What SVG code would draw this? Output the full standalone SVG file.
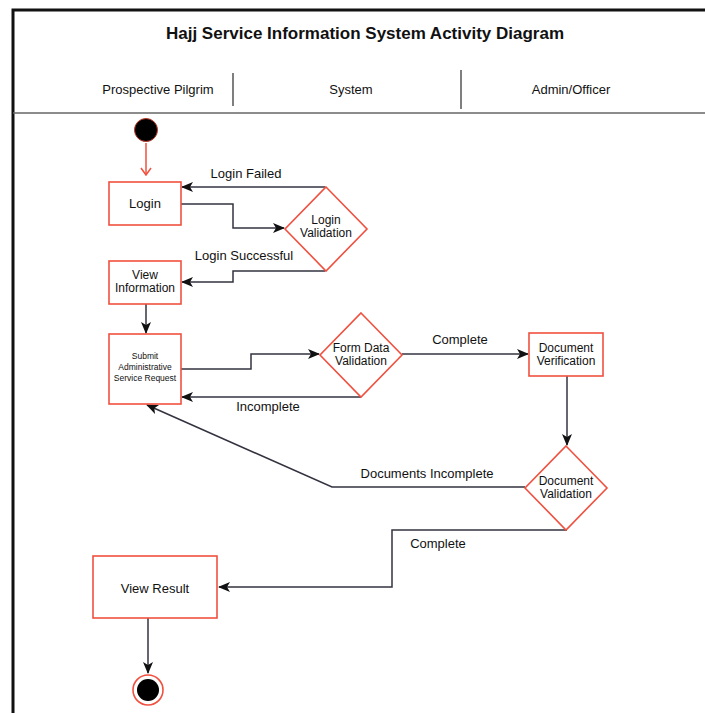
<svg xmlns="http://www.w3.org/2000/svg" width="705" height="713" viewBox="0 0 705 713">
<defs>
<style>
.t{font-family:"Liberation Sans","Open Sans",Arial,sans-serif;fill:#111;text-anchor:middle}
.box{fill:#fff;stroke:#f0503f;stroke-width:1.6}
.c{fill:none;stroke:#333340;stroke-width:1.5}
</style>
<marker id="ah" viewBox="0 0 12 10" refX="11" refY="5" markerWidth="12" markerHeight="10" markerUnits="userSpaceOnUse" orient="auto">
<path d="M0,0 L12,5 L0,10 L3,5 Z" fill="#111"/>
</marker>
<marker id="rh" viewBox="0 0 12 12" refX="11" refY="6" markerWidth="12" markerHeight="12" markerUnits="userSpaceOnUse" orient="auto">
<path d="M4,1 L11,6 L4,11" fill="none" stroke="#f0503f" stroke-width="1.5"/>
</marker>
</defs>
<rect width="705" height="713" fill="#fff"/>
<g id="frame">
<path d="M13,713 V10 H705" fill="none" stroke="#111" stroke-width="3"/>
<line x1="13" y1="113" x2="705" y2="113" stroke="#666" stroke-width="1.5"/>
<line x1="233" y1="73" x2="233" y2="106" stroke="#555" stroke-width="1.5"/>
<line x1="461" y1="70" x2="461" y2="109" stroke="#555" stroke-width="1.5"/>
<text class="t" x="365" y="39" font-size="17" font-weight="bold">Hajj Service Information System Activity Diagram</text>
<text class="t" x="158" y="94" font-size="13">Prospective Pilgrim</text>
<text class="t" x="351" y="94" font-size="13">System</text>
<text class="t" x="571" y="94" font-size="13">Admin/Officer</text>
</g>
<g id="connectors">
<path class="c" d="M146,143 V175" style="stroke:#f0503f" marker-end="url(#rh)"/>
<path class="c" d="M325,187 H182" marker-end="url(#ah)"/>
<path class="c" d="M181,204 H233 V228 H284" marker-end="url(#ah)"/>
<path class="c" d="M325,271 H233 V282 H182" marker-end="url(#ah)"/>
<path class="c" d="M146,304 V333" marker-end="url(#ah)"/>
<path class="c" d="M181,369 H251 V354 H319" marker-end="url(#ah)"/>
<path class="c" d="M361,397 H182" marker-end="url(#ah)"/>
<path class="c" d="M402,354 H528" marker-end="url(#ah)"/>
<path class="c" d="M567,376 V445" marker-end="url(#ah)"/>
<path class="c" d="M525,487 H332 L147,405" marker-end="url(#ah)"/>
<path class="c" d="M567,530 H392 V587 H219" marker-end="url(#ah)"/>
<path class="c" d="M148,618 V673" marker-end="url(#ah)"/>
<text class="t" x="246" y="178" font-size="13">Login Failed</text>
<text class="t" x="244" y="260" font-size="13">Login Successful</text>
<text class="t" x="268" y="411" font-size="13">Incomplete</text>
<text class="t" x="460" y="344" font-size="13">Complete</text>
<text class="t" x="427" y="478" font-size="13">Documents Incomplete</text>
<text class="t" x="438" y="548" font-size="13">Complete</text>
</g>
<g id="start"><circle cx="146" cy="130" r="11.5" fill="#000" stroke="#c0392b" stroke-width="1"/></g>
<g id="login"><rect class="box" x="109" y="182" width="72" height="43"/><text class="t" x="145" y="208" font-size="13">Login</text></g>
<g id="loginValidation"><path class="box" d="M326,187 L367,229 L326,271 L285,229 Z"/><text class="t" x="326" y="224" font-size="12">Login</text><text class="t" x="326" y="237" font-size="12">Validation</text></g>
<g id="viewInformation"><rect class="box" x="109" y="261" width="72" height="43"/><text class="t" x="145" y="279" font-size="12">View</text><text class="t" x="145" y="292" font-size="12">Information</text></g>
<g id="submitRequest"><rect class="box" x="109" y="334" width="72" height="70"/><text class="t" x="145" y="359" font-size="8.5">Submit</text><text class="t" x="145" y="370" font-size="8.5">Administrative</text><text class="t" x="145" y="381" font-size="8.5">Service Request</text></g>
<g id="formValidation"><path class="box" d="M361,313 L402,355 L361,397 L320,355 Z"/><text class="t" x="361" y="352" font-size="12">Form Data</text><text class="t" x="361" y="365" font-size="12">Validation</text></g>
<g id="docVerification"><rect class="box" x="529" y="333" width="74" height="43"/><text class="t" x="566" y="352" font-size="12">Document</text><text class="t" x="566" y="365" font-size="12">Verification</text></g>
<g id="docValidation"><path class="box" d="M566,446 L607,488 L566,530 L525,488 Z"/><text class="t" x="566" y="485" font-size="12">Document</text><text class="t" x="566" y="498" font-size="12">Validation</text></g>
<g id="viewResult"><rect class="box" x="93" y="556" width="124" height="62"/><text class="t" x="155" y="593" font-size="13">View Result</text></g>
<g id="end"><circle cx="148" cy="690" r="15" fill="#fff" stroke="#f0503f" stroke-width="1.6"/><circle cx="148" cy="690" r="11" fill="#000"/></g>
</svg>
